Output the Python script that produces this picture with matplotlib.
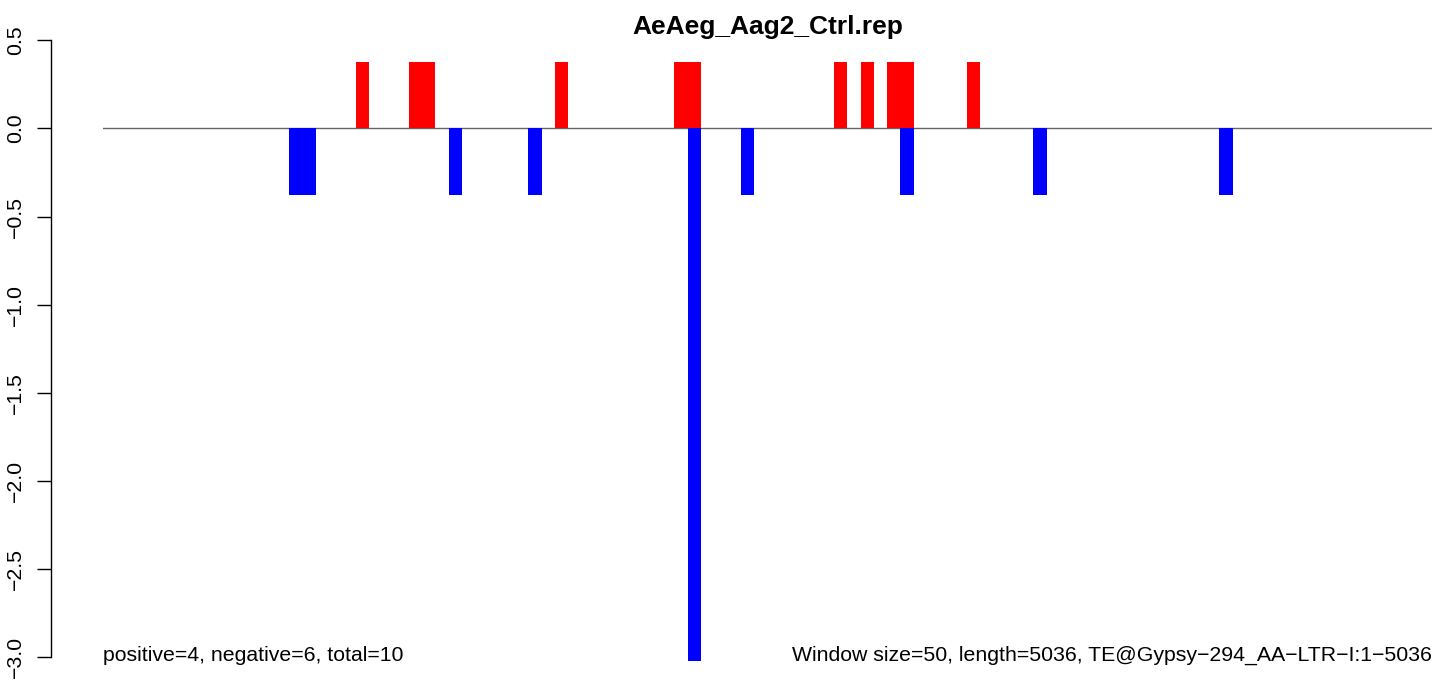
import matplotlib
matplotlib.use("Agg")
import matplotlib.pyplot as plt

plt.rcParams['font.family'] = ['Liberation Sans', 'DejaVu Sans']

# ---- data ----
title = "AeAeg_Aag2_Ctrl.rep"
pos_bins = [19, 23, 24, 34, 43, 44, 55, 57, 59, 60, 65]
pos_vals = [0.375, 0.375, 0.375, 0.375, 0.375, 0.375, 0.375, 0.375, 0.375, 0.375, 0.375]
neg_bins = [14, 15, 26, 32, 44, 48, 60, 70, 84]
neg_vals = [-0.375, -0.375, -0.375, -0.375, -3.02, -0.375, -0.375, -0.375, -0.375]
n_bins = 100
yticks = [-3.0, -2.5, -2.0, -1.5, -1.0, -0.5, 0.0, 0.5]
left_note = "positive=4, negative=6, total=10"
right_note = "Window size=50, length=5036, TE@Gypsy\u2212294_AA\u2212LTR\u2212I:1\u22125036"

W, H = 1439, 681
fig = plt.figure(figsize=(W / 100, H / 100), dpi=100)
x0, x1 = 103, 1432
ax = fig.add_axes([x0 / W, 0, (x1 - x0) / W, 1])
ax.set_xlim(0, n_bins)
zero_px = 128.5
ppu = 176.2
ax.set_ylim(-(H - zero_px) / ppu, zero_px / ppu)

ax.bar(pos_bins, pos_vals, width=1, align='edge', color='#FF0000', linewidth=0, zorder=2)
ax.bar(neg_bins, neg_vals, width=1, align='edge', color='#0000FF', linewidth=0, zorder=2)
ax.axhline(0, color='#666666', linewidth=1.0, zorder=1)

for s in ['top', 'right', 'bottom']:
    ax.spines[s].set_visible(False)
ax.spines['left'].set_position(('outward', (x0 - 50.7) * 0.72))
ax.spines['left'].set_bounds(-3.0, 0.5)
ax.spines['left'].set_linewidth(1.0)
ax.set_xticks([])
ax.set_yticks(yticks)
ax.set_yticklabels([f"{v:.1f}".replace('-', '\u2212') for v in yticks],
                   rotation=90, va='center', fontsize=15.3)
ax.tick_params(axis='y', length=9.9, width=1.0, pad=8.5)
ax.patch.set_alpha(0)

ax.text(0.5, 1 - 27 / H, title, transform=ax.transAxes, ha='center', va='center',
        fontsize=19, fontweight='bold')
ax.text(0, -2.99, left_note, ha='left', va='center', fontsize=15.3)
ax.text(n_bins, -2.99, right_note, ha='right', va='center', fontsize=15.3)

fig.savefig("out.png", dpi=100)
